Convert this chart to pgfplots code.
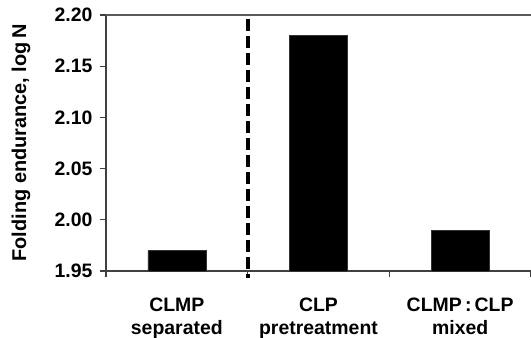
\documentclass[border=0pt]{standalone}
\usepackage{fontspec}
\setmainfont{Liberation Sans}
\usepackage{pgfplots}
\pgfplotsset{compat=1.18}
\definecolor{axgray}{HTML}{404040}
\definecolor{topgray}{HTML}{5A5A5A}
\begin{document}
\begin{tikzpicture}
\path[use as bounding box] (-106bp,-67bp) rectangle (425bp,271bp);
\begin{axis}[
  scale only axis,
  width=425bp, height=256bp,
  xmin=-0.5, xmax=2.5,
  ymin=1.95, ymax=2.20,
  ytick={1.95,2.00,2.05,2.10,2.15,2.20},
  yticklabels={1.95,2.00,2.05,2.10,2.15,2.20},
  axis x line*=bottom, axis y line*=left,
  axis line style={draw=axgray, line width=1.2bp, -},
  tick align=outside,
  major tick length=6bp,
  tick style={draw=axgray, line width=1.1bp},
  xtick={-0.5,0.5,1.5,2.5},
  xticklabels={},
  extra x ticks={0,1,2},
  extra x tick labels={CLMP\\separated, CLP\\pretreatment, CLMP\,:\,CLP\\mixed},
  extra x tick style={tick style={draw=none}, xticklabel style={yshift=-17bp}},
  xticklabel style={align=center, font=\bfseries\fontsize{19.5}{23}\selectfont},
  yticklabel style={font=\bfseries\fontsize{19.5}{23}\selectfont, anchor=east, xshift=-4bp},
  ylabel={Folding endurance, log\,N},
  ylabel style={font=\bfseries\fontsize{20}{23}\selectfont, at={(rel axis cs:0,0.5)}, anchor=center, rotate=0, yshift=85bp},
  ybar, bar width=58bp,
]
\addplot[fill=black, draw=black!80] coordinates {(0,1.97) (1,2.18) (2,1.99)};
\coordinate (dtop) at (axis cs:0.5,2.196);
\coordinate (dbot) at (axis cs:0.5,1.95);
\coordinate (tl) at (rel axis cs:0,1);
\coordinate (tr) at (rel axis cs:1,1);
\end{axis}
\draw[topgray, line width=2bp] (tl) -- (tr);
\draw[black, line width=4bp, dash pattern=on 12bp off 5bp] (dtop) -- ([yshift=-7bp]dbot);
\end{tikzpicture}
\end{document}
